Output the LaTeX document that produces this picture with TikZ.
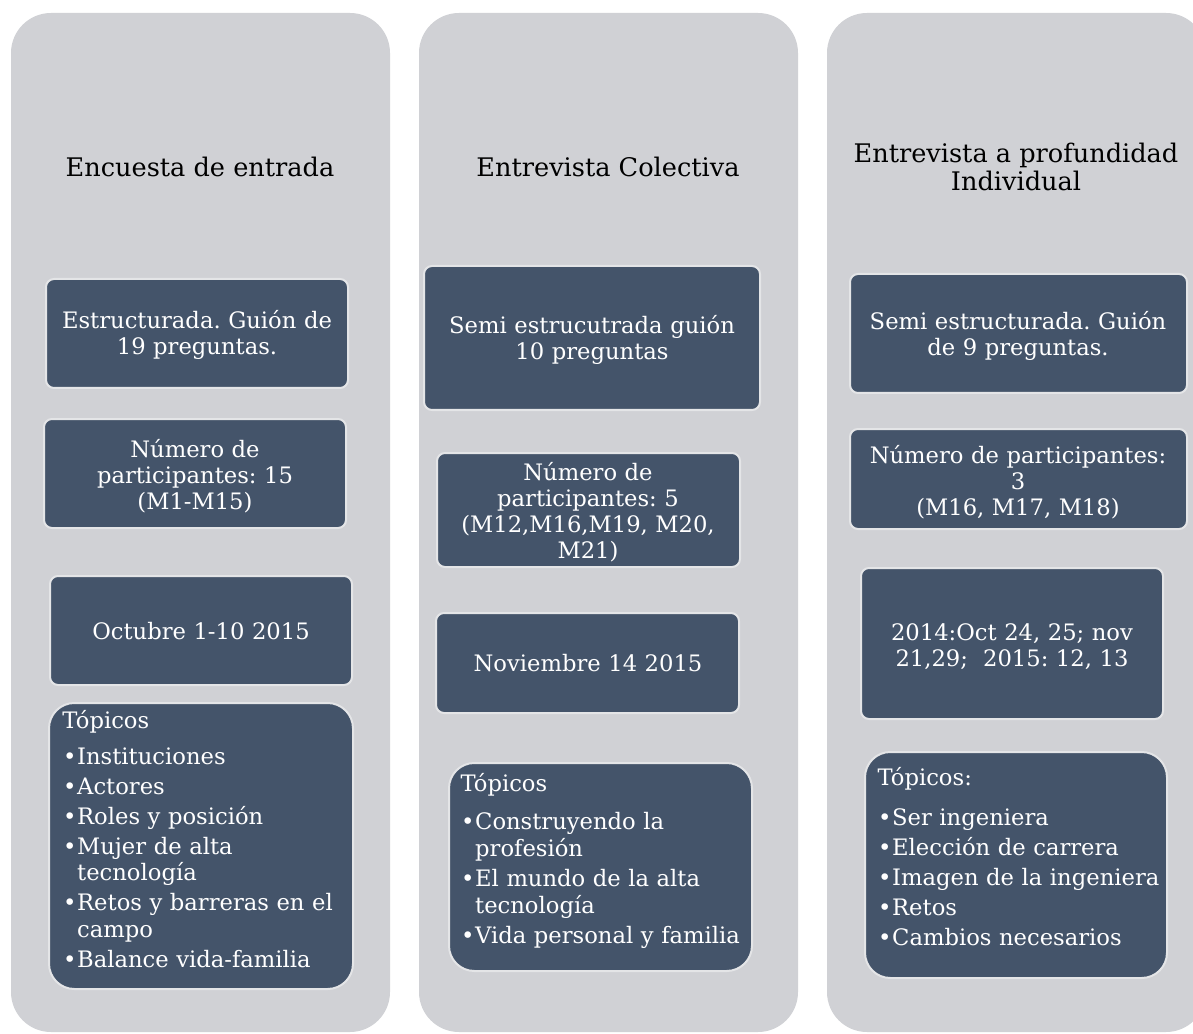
\documentclass[tikz,border=0pt]{standalone}
\usepackage{fontspec}
\setmainfont{DejaVu Serif}
\frenchspacing
\definecolor{colgray}{RGB}{208,209,213}
\definecolor{boxblue}{RGB}{68,84,106}
\definecolor{boxedge}{RGB}{228,229,231}
\newcommand{\topitem}[1]{\par\hangindent=11pt\hangafter=1\noindent\makebox[11pt][c]{\textbullet}#1}
\tikzset{every picture/.style={line width=0.75pt}}
\tikzset{
  colbg/.style={fill=colgray, draw=none, rounded corners=30pt},
  darkbox/.style={fill=boxblue, draw=boxedge, line width=1.5pt, rounded corners=6pt},
  topicbox/.style={darkbox, rounded corners=19pt},
  coltitle/.style={align=center, text=black, font=\fontsize{19.2}{21}\selectfont},
  boxtext/.style={align=center, text=white, text width=260pt, inner sep=0pt, font=\fontsize{17}{19.5}\selectfont},
  topictext/.style={align=left, text=white, text width=250pt, inner sep=0pt, anchor=base west, font=\fontsize{17}{20}\selectfont\setlength{\parskip}{2.5pt}}
}
\begin{document}
\begin{tikzpicture}[x=0.75pt,y=0.75pt,yscale=-1]
\fill[white] (0,0) rectangle (1193,1034);
\clip (0,0) rectangle (1193,1034);

%Shape: Columns
\draw [colbg] (11,13) rectangle (390,1032);
\draw [colbg] (419,13) rectangle (798,1032);
\draw [colbg] (827,13) rectangle (1206,1032);

% Titles
\node (tencuesta) [coltitle] at (200,167) {Encuesta de entrada};
\node (tcolectiva) [coltitle] at (608,167) {Entrevista Colectiva};
\node (tindividual) [coltitle] at (1016,167) {Entrevista a profundidad\\Individual};

%Shape: Encuesta boxes
\draw [darkbox] (46,279) rectangle (348,388);
\draw [darkbox] (44,419) rectangle (346,528);
\draw [darkbox] (50,576) rectangle (352,685);
\draw [topicbox] (49,703) rectangle (353,989);

%Shape: Colectiva boxes
\draw [darkbox] (424,266) rectangle (760,410);
\draw [darkbox] (437,453) rectangle (740,567);
\draw [darkbox] (436,613) rectangle (739,713);
\draw [topicbox] (449,763) rectangle (752,971);

%Shape: Individual boxes
\draw [darkbox] (850,274) rectangle (1187,393);
\draw [darkbox] (850,429) rectangle (1187,529);
\draw [darkbox] (861,568) rectangle (1163,719);
\draw [topicbox] (865,752) rectangle (1167,978);

% Text Node
\node (encguion) [boxtext] at (197,335) {Estructurada. Guión de\\19 preguntas.};
\node (encpart) [boxtext] at (195,476) {Número de\\participantes: 15\\(M1-M15)};
\node (encfecha) [boxtext] at (201,631) {Octubre 1-10 2015};
\node (enctopic) [topictext] at (62,728) {Tópicos\par\vspace{4.5pt}%
  \topitem{Instituciones}
  \topitem{Actores}
  \topitem{Roles y posición}
  \topitem{Mujer de alta\newline tecnología}
  \topitem{Retos y barreras en el\newline campo}
  \topitem{Balance vida-familia}};

% Text Node
\node (colguion) [boxtext] at (592,340) {Semi estrucutrada guión\\10 preguntas};
\node (colpart) [boxtext] at (588,512) {Número de\\participantes: 5\\(M12,M16,M19, M20,\\M21)};
\node (colfecha) [boxtext] at (588,663) {Noviembre 14 2015};
\node (coltopic) [topictext] at (460,791) {Tópicos\par\vspace{6.5pt}%
  \topitem{Construyendo la\newline profesión}
  \topitem{El mundo de la alta\newline tecnología}
  \topitem{Vida personal y familia}};

% Text Node
\node (indguion) [boxtext] at (1018,336) {Semi estructurada. Guión\\de 9 preguntas.};
\node (indpart) [boxtext] at (1018,482) {Número de participantes:\\3\\(M16, M17, M18)};
\node (indfecha) [boxtext] at (1012,647) {2014:Oct 24, 25; nov\\21,29;~ 2015: 12, 13};
\node (indtopic) [topictext] at (877,785) {Tópicos:\par\vspace{7.5pt}%
  \topitem{Ser ingeniera}
  \topitem{Elección de carrera}
  \topitem{Imagen de la ingeniera}
  \topitem{Retos}
  \topitem{Cambios necesarios}};
\end{tikzpicture}
\end{document}
